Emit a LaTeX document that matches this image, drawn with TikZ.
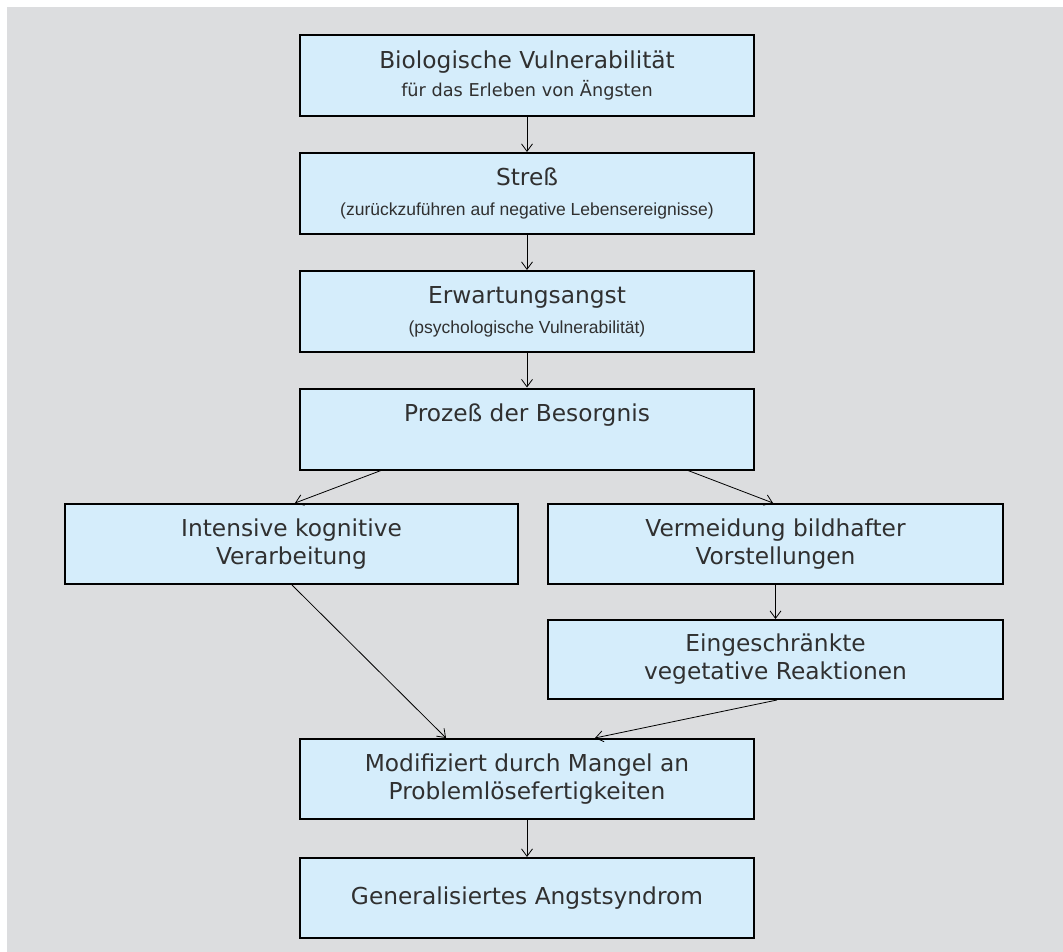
\documentclass[tikz,border=0pt]{standalone}
\usepackage{fontspec}
\setmainfont{DejaVu Sans}
\newfontfamily\narrowfont{Liberation Sans}
\usetikzlibrary{arrows.meta}
\definecolor{bggray}{RGB}{220,221,223}
\definecolor{boxblue}{RGB}{213,237,251}
\definecolor{txtgray}{RGB}{48,48,48}
\newcommand\smalltxt{\fontsize{17.7}{28}\selectfont}
\newcommand\narrowtxt{\narrowfont\fontsize{17.5}{28}\selectfont}
\tikzset{
  box/.style={draw=black, line width=2pt, fill=boxblue, inner sep=0pt,
    align=center, text=txtgray, minimum height=81pt,
    font=\fontsize{23.3}{28}\selectfont},
  arr/.style={-{Straight Barb[length=7.5pt,width=11pt]}, line width=0.8pt, draw=black}
}
\begin{document}
\begin{tikzpicture}[x=1pt,y=-1pt]
\useasboundingbox (0,0) rectangle (1063,952);
\fill[white] (0,0) rectangle (1063,952);
\fill[bggray] (7,7) rectangle (1063,952);

\node[box, minimum width=454pt] (b1) at (527,75.5)
  {Biologische Vulnerabilität\\{\smalltxt für das Erleben von Ängsten}};
\node[box, minimum width=454pt] (b2) at (527,193.5)
  {Streß\\[2pt]{\narrowtxt (zurückzuführen auf negative Lebensereignisse)}};
\node[box, minimum width=454pt] (b3) at (527,311.5)
  {Erwartungsangst\\[2pt]{\narrowtxt (psychologische Vulnerabilität)}};
\node[box, minimum width=454pt] (b4) at (527,429)
  {Prozeß der Besorgnis\\\phantom{Vg}};
\node[box, minimum width=453pt, minimum height=80pt] (b5) at (291.5,544)
  {Intensive kognitive\\Verarbeitung};
\node[box, minimum width=455pt, minimum height=80pt] (b6) at (775.5,544)
  {Vermeidung bildhafter\\Vorstellungen};
\node[box, minimum width=455pt, minimum height=79pt] (b7) at (775.5,659.5)
  {Eingeschränkte\\vegetative Reaktionen};
\node[box, minimum width=454pt, minimum height=80pt] (b8) at (527,779)
  {Modifiziert durch Mangel an\\Problemlösefertigkeiten};
\node[box, minimum width=454pt, minimum height=80pt] (b9) at (527,898)
  {Generalisiertes Angstsyndrom};

\draw[arr] (b1) -- (b2);
\draw[arr] (b2) -- (b3);
\draw[arr] (b3) -- (b4);
\draw[arr] ([xshift=-146pt]b4.south) -- ([xshift=3.5pt]b5.north);
\draw[arr] ([xshift=161pt]b4.south) -- ([xshift=-2.5pt]b6.north);
\draw[arr] (b6) -- (b7);
\draw[arr] ([xshift=0.5pt]b5.south) -- ([xshift=-81pt]b8.north);
\draw[arr] ([xshift=1.5pt]b7.south) -- ([xshift=68pt]b8.north);
\draw[arr] (b8) -- (b9);
\end{tikzpicture}
\end{document}
